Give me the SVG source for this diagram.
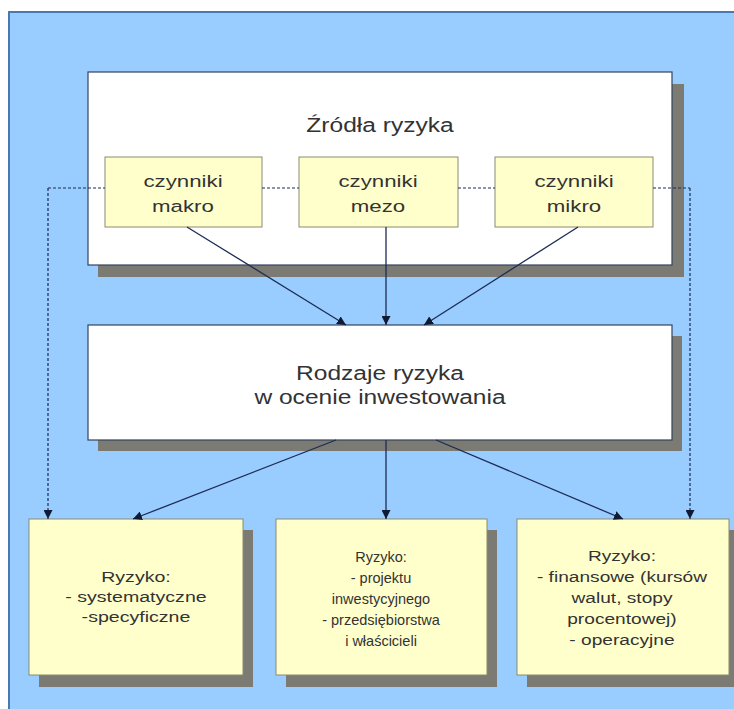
<svg xmlns="http://www.w3.org/2000/svg" width="734" height="709" viewBox="0 0 734 709">
  <style>
    .shadow { fill: #7b7b74; }
    .panel { fill: #ffffff; stroke: #34445e; stroke-width: 1.2; }
    .note { fill: #ffffcc; stroke: #8a8a70; stroke-width: 1; }
    .big { fill: #ffffcc; stroke: #8a8a70; stroke-width: 1; }
    text { font-family: "Liberation Sans", Arial, sans-serif; fill: #333333; text-anchor: middle; }
    .t20 { font-size: 21px; }
    .t16 { font-size: 16.5px; }
    .t15 { font-size: 14.5px; }
    .link { stroke: #1d2c55; stroke-width: 1.3; fill: none; }
    .dash { stroke: #1d2c55; stroke-width: 1.2; fill: none; stroke-dasharray: 3 2; }
  </style>
  <defs>
    <marker id="arrow" viewBox="0 0 10 10" refX="10" refY="5" markerWidth="9" markerHeight="9" markerUnits="userSpaceOnUse" orient="auto">
      <path d="M0,0 L10,5 L0,10 z" fill="#111a33"/>
    </marker>
  </defs>

  <!-- page background -->
  <rect x="0" y="0" width="734" height="709" fill="#ffffff"/>
  <rect x="8" y="12" width="726" height="697" fill="#99ccff"/>
  <line x1="8" y1="12" x2="734" y2="12" stroke="#4b78b0" stroke-width="2"/>
  <line x1="9" y1="12" x2="9" y2="709" stroke="#4b78b0" stroke-width="2"/>

  <!-- sources of risk -->
  <g id="zrodla">
    <rect class="shadow" x="98" y="84" width="586" height="193"/>
    <rect class="panel" x="88" y="72" width="584" height="193"/>
    <text class="t20" x="380" y="132" transform="matrix(1.17 0 0 1 -64.6 0)">Źródła ryzyka</text>
  </g>
  <g id="makro">
    <rect class="note" x="105" y="157" width="157" height="70"/>
    <g transform="matrix(1.35 0 0 1 -64.05 0)">
      <text class="t16" x="183" y="187">czynniki</text>
      <text class="t16" x="183" y="212">makro</text>
    </g>
  </g>
  <g id="mezo">
    <rect class="note" x="299" y="157" width="159" height="70"/>
    <g transform="matrix(1.35 0 0 1 -132.3 0)">
      <text class="t16" x="378" y="187">czynniki</text>
      <text class="t16" x="378" y="212">mezo</text>
    </g>
  </g>
  <g id="mikro">
    <rect class="note" x="495" y="157" width="158" height="70"/>
    <g transform="matrix(1.35 0 0 1 -200.9 0)">
      <text class="t16" x="574" y="187">czynniki</text>
      <text class="t16" x="574" y="212">mikro</text>
    </g>
  </g>

  <!-- kinds of risk -->
  <g id="rodzaje">
    <rect class="shadow" x="98" y="336" width="584" height="115"/>
    <rect class="panel" x="88" y="325" width="584" height="115"/>
    <g transform="matrix(1.17 0 0 1 -64.6 0)">
      <text class="t20" x="380" y="380">Rodzaje ryzyka</text>
      <text class="t20" x="380" y="404">w ocenie inwestowania</text>
    </g>
  </g>

  <!-- risk groups -->
  <g id="ryzyko-1">
    <rect class="shadow" x="39" y="530" width="214" height="157"/>
    <rect class="big" x="29" y="519" width="214" height="156"/>
    <g transform="matrix(1.35 0 0 1 -47.6 0)">
      <text class="t15" x="136" y="582">Ryzyko:</text>
      <text class="t15" x="136" y="602">- systematyczne</text>
      <text class="t15" x="136" y="622">-specyficzne</text>
    </g>
  </g>
  <g id="ryzyko-2">
    <rect class="shadow" x="286" y="530" width="211" height="157"/>
    <rect class="big" x="276" y="519" width="211" height="156"/>
    <text class="t15" x="381" y="562">Ryzyko:</text>
    <text class="t15" x="381" y="583">- projektu</text>
    <text class="t15" x="381" y="604">inwestycyjnego</text>
    <text class="t15" x="381" y="625">- przedsiębiorstwa</text>
    <text class="t15" x="381" y="646">i właścicieli</text>
  </g>
  <g id="ryzyko-3">
    <rect class="shadow" x="527" y="530" width="212" height="157"/>
    <rect class="big" x="517" y="519" width="212" height="156"/>
    <g transform="matrix(1.32 0 0 1 -199.04 0)">
      <text class="t15" x="622" y="561">Ryzyko:</text>
      <text class="t15" x="622" y="582">- finansowe (kursów</text>
      <text class="t15" x="622" y="603">walut, stopy</text>
      <text class="t15" x="622" y="624">procentowej)</text>
      <text class="t15" x="622" y="645">- operacyjne</text>
    </g>
  </g>

  <!-- connectors -->
  <g id="connectors">
    <line class="dash" x1="48" y1="188" x2="105" y2="188"/>
    <line class="dash" x1="262" y1="188" x2="299" y2="188"/>
    <line class="dash" x1="458" y1="188" x2="495" y2="188"/>
    <line class="dash" x1="653" y1="188" x2="690" y2="188"/>
    <line class="dash" x1="48" y1="188" x2="48" y2="519" marker-end="url(#arrow)"/>
    <line class="dash" x1="690" y1="188" x2="690" y2="519" marker-end="url(#arrow)"/>

    <line class="link" x1="187" y1="227" x2="346" y2="325" marker-end="url(#arrow)"/>
    <line class="link" x1="386" y1="227" x2="386" y2="325" marker-end="url(#arrow)"/>
    <line class="link" x1="578" y1="227" x2="424" y2="325" marker-end="url(#arrow)"/>

    <line class="link" x1="336" y1="440" x2="133" y2="519" marker-end="url(#arrow)"/>
    <line class="link" x1="386" y1="440" x2="386" y2="519" marker-end="url(#arrow)"/>
    <line class="link" x1="436" y1="440" x2="623" y2="519" marker-end="url(#arrow)"/>
  </g>
</svg>
